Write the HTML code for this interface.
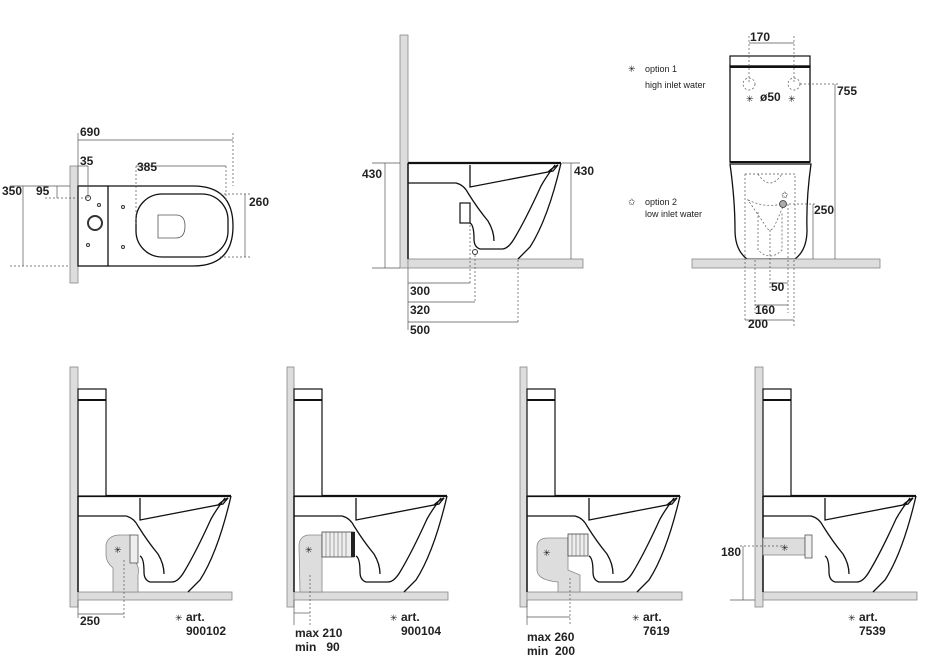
<!DOCTYPE html>
<html><head><meta charset="utf-8"><style>
html,body{margin:0;padding:0;background:#fff;}
svg{display:block;font-family:"Liberation Sans",Arial,sans-serif;}
.b{font-weight:bold;font-size:12px;fill:#222;}
.s{font-size:9px;fill:#222;}
</style></head><body>
<svg width="951" height="662" viewBox="0 0 951 662" xmlns="http://www.w3.org/2000/svg">
<defs>
<g id="bowl" fill="none" stroke="#111" stroke-width="1.3">
  <line x1="0" y1="-96" x2="153" y2="-96" stroke-width="2.2"/>
  <path d="M153,-96 Q140,-40 122,-12 Q114,-4 110,0"/>
  <path d="M147,-94 Q138,-82 133,-73 Q118,-40 106,-20 Q100,-10 94,-10 L72,-10 Q66,-12 66,-20 Q66,-34 62,-36"/>
  <path d="M0,-76 L48,-76 Q56,-74 60,-66 Q70,-50 80,-38 Q86,-28 86,-18"/>
  <path d="M62,-94 L62,-72 L145,-88 L150,-94"/>
  <path d="M140,-87 Q144,-91 150,-94"/>
</g>
<g id="side">
  <use href="#bowl"/>
  <rect x="0" y="-203" width="28" height="107" fill="#fff" stroke="#111" stroke-width="1.2"/>
  <line x1="0" y1="-192" x2="28" y2="-192" stroke="#111" stroke-width="2"/>
  <line x1="0" y1="-96" x2="0" y2="0" stroke="#111" stroke-width="1.5"/>
</g>
</defs>

<!-- ===== Plan view ===== -->
<rect x="70" y="166" width="8" height="117" fill="#ddd" stroke="#888" stroke-width="0.8"/>
<rect x="78" y="186" width="30" height="80" fill="none" stroke="#111" stroke-width="1.3"/>
<path d="M108,186 L193,186 Q233,186 233,226 Q233,266 193,266 L108,266" fill="none" stroke="#111" stroke-width="1.3"/>
<rect x="136" y="194" width="92" height="63" rx="26" fill="none" stroke="#111" stroke-width="1.3"/>
<path d="M158,215 L176,215 Q185,215 185,226 Q185,238 176,238 L158,238 Z" fill="none" stroke="#555" stroke-width="0.8"/>
<circle cx="88" cy="198" r="2.5" fill="none" stroke="#333"/>
<circle cx="95" cy="223" r="7" fill="none" stroke="#333" stroke-width="2"/>
<circle cx="99" cy="205" r="1.5" fill="none" stroke="#333"/>
<circle cx="88" cy="245" r="1.5" fill="none" stroke="#333"/>
<circle cx="123" cy="207" r="1.5" fill="none" stroke="#333"/>
<circle cx="123" cy="247" r="1.5" fill="none" stroke="#333"/>
<g stroke="#555" stroke-width="0.7" fill="none">
  <line x1="78" y1="140" x2="233" y2="140"/><line x1="78" y1="133" x2="78" y2="186"/><line x1="233" y1="133" x2="233" y2="186" stroke-dasharray="2,2"/>
  <line x1="88" y1="166" x2="88" y2="198"/><line x1="78" y1="166" x2="88" y2="166"/>
  <line x1="136" y1="166" x2="226" y2="166"/><line x1="136" y1="166" x2="136" y2="226" stroke-dasharray="2,2"/><line x1="226" y1="166" x2="226" y2="200" stroke-dasharray="2,2"/>
  <line x1="23" y1="186" x2="23" y2="266"/><line x1="10" y1="266" x2="70" y2="266" stroke-dasharray="2,2"/><line x1="10" y1="186" x2="70" y2="186"/>
  <line x1="57" y1="186" x2="57" y2="198"/><line x1="45" y1="198" x2="88" y2="198" stroke-dasharray="2,2"/>
  <line x1="245" y1="194" x2="245" y2="257"/><line x1="220" y1="194" x2="250" y2="194" stroke-dasharray="2,2"/><line x1="220" y1="257" x2="250" y2="257" stroke-dasharray="2,2"/>
</g>
<text class="b" x="80" y="136">690</text>
<text class="b" x="80" y="165">35</text>
<text class="b" x="137" y="171">385</text>
<text class="b" x="2" y="195">350</text>
<text class="b" x="36" y="195">95</text>
<text class="b" x="249" y="206">260</text>

<!-- ===== Side view top ===== -->
<rect x="400" y="35" width="8" height="233" fill="#ddd" stroke="#888" stroke-width="0.8"/>
<rect x="408" y="259" width="175" height="9" fill="#ddd" stroke="#888" stroke-width="0.8"/>
<g transform="translate(408,259)"><use href="#bowl"/>
<rect x="52" y="-56" width="10" height="20" fill="none" stroke="#111" stroke-width="1.2"/>
<line x1="0" y1="-96" x2="0" y2="0" stroke="#111" stroke-width="1.5"/></g>
<circle cx="475" cy="252" r="2.5" fill="none" stroke="#333"/>
<g stroke="#555" stroke-width="0.7" fill="none">
  <line x1="385" y1="163" x2="385" y2="268"/><line x1="372" y1="163" x2="400" y2="163"/><line x1="372" y1="268" x2="400" y2="268"/>
  <line x1="571" y1="163" x2="571" y2="259"/><line x1="562" y1="163" x2="580" y2="163"/>
  <line x1="408" y1="283" x2="470" y2="283"/><line x1="470" y1="225" x2="470" y2="283" stroke-dasharray="2,2"/>
  <line x1="408" y1="302" x2="475" y2="302"/><line x1="475" y1="255" x2="475" y2="302" stroke-dasharray="2,2"/>
  <line x1="408" y1="322" x2="518" y2="322"/><line x1="518" y1="260" x2="518" y2="322" stroke-dasharray="2,2"/>
  <line x1="408" y1="268" x2="408" y2="330"/>
</g>
<text class="b" x="362" y="178">430</text>
<text class="b" x="574" y="175">430</text>
<text class="b" x="410" y="295">300</text>
<text class="b" x="410" y="314">320</text>
<text class="b" x="410" y="334">500</text>

<!-- ===== Front view ===== -->
<text class="s" x="628" y="72">✳</text><text class="s" x="645" y="72">option 1</text>
<text class="s" x="645" y="88">high inlet water</text>
<text class="s" x="628" y="205">✩</text><text class="s" x="645" y="205">option 2</text>
<text class="s" x="645" y="217">low inlet water</text>
<rect x="730" y="56" width="80" height="10" fill="none" stroke="#111" stroke-width="1.2"/>
<rect x="730" y="66" width="80" height="96" fill="none" stroke="#111" stroke-width="1.3"/>
<line x1="730" y1="67" x2="810" y2="67" stroke="#111" stroke-width="2"/>
<line x1="730" y1="162" x2="810" y2="162" stroke="#111" stroke-width="2"/>
<path d="M730,164 L811,164 Q806,200 807,230 Q807,250 795,259 L747,259 Q735,250 735,230 Q735,200 730,164 Z" fill="none" stroke="#111" stroke-width="1.3"/>
<rect x="692" y="259" width="188" height="9" fill="#ddd" stroke="#888" stroke-width="0.8"/>
<g stroke="#555" stroke-width="0.7" fill="none" stroke-dasharray="2,2">
  <circle cx="749" cy="84" r="6"/><circle cx="794" cy="84" r="6"/>
  <path d="M745,174 L795,174 L795,255 M745,174 L745,320 M758,174 Q770,192 782,174"/>
  <path d="M748,200 Q770,210 785,202 L775,225 Q770,235 765,225 Z"/>
  <path d="M758,212 L758,250 Q770,262 782,250 L782,212"/>
  <line x1="749" y1="36" x2="749" y2="84"/><line x1="794" y1="36" x2="794" y2="84"/>
  <line x1="800" y1="84" x2="838" y2="84"/><line x1="785" y1="204" x2="815" y2="204"/>
  <line x1="770" y1="230" x2="770" y2="290"/><line x1="755" y1="260" x2="755" y2="313"/><line x1="788" y1="204" x2="788" y2="313"/>
  <line x1="794" y1="260" x2="794" y2="327"/>
</g>
<g stroke="#555" stroke-width="0.7" fill="none">
  <line x1="749" y1="43" x2="794" y2="43"/>
  <line x1="835" y1="84" x2="835" y2="259"/>
  <line x1="813" y1="204" x2="813" y2="259"/>
  <line x1="770" y1="283" x2="788" y2="283"/>
  <line x1="755" y1="305" x2="788" y2="305"/>
  <line x1="745" y1="320" x2="794" y2="320"/>
</g>
<circle cx="783" cy="204" r="3.5" fill="#aaa" stroke="#333" stroke-width="0.8"/>
<text class="s" x="781" y="198" font-size="8">✩</text>
<text class="b" x="750" y="41">170</text>
<text class="b" x="837" y="95">755</text>
<text class="s" x="746" y="102">✳</text><text class="b" x="760" y="101">ø50</text><text class="s" x="788" y="102">✳</text>
<text class="b" x="814" y="214">250</text>
<text class="b" x="771" y="291">50</text>
<text class="b" x="755" y="314">160</text>
<text class="b" x="748" y="328">200</text>

<!-- ===== Bottom views ===== -->
<g fill="#ddd" stroke="#888" stroke-width="0.8">
  <rect x="70" y="367" width="8" height="240"/><rect x="78" y="592" width="154" height="8"/>
  <rect x="287" y="367" width="7" height="240"/><rect x="294" y="592" width="154" height="8"/>
  <rect x="520" y="367" width="7" height="240"/><rect x="527" y="592" width="155" height="8"/>
  <rect x="755" y="367" width="8" height="240"/><rect x="763" y="592" width="154" height="8"/>
</g>
<use href="#side" transform="translate(78,592)"/>
<use href="#side" transform="translate(294,592)"/>
<use href="#side" transform="translate(527,592)"/>
<use href="#side" transform="translate(763,592)"/>

<!-- fittings -->
<path d="M106,545 Q108,535 120,535 L132,535 L133,560 Q140,565 138,575 L138,592 L113,592 L113,568 Q106,562 106,555 Z" fill="#ddd" stroke="#888" stroke-width="0.8"/>
<rect x="130" y="535" width="8" height="28" fill="#eee" stroke="#555" stroke-width="0.8"/>
<path d="M299,545 Q300,535 310,535 L322,535 L322,592 L300,592 Z" fill="#ddd" stroke="#888" stroke-width="0.8"/>
<rect x="322" y="532" width="32" height="25" fill="#eee" stroke="#444" stroke-width="0.8"/>
<g stroke="#555" stroke-width="0.5"><line x1="326" y1="532" x2="326" y2="557"/><line x1="330" y1="532" x2="330" y2="557"/><line x1="334" y1="532" x2="334" y2="557"/><line x1="338" y1="532" x2="338" y2="557"/><line x1="342" y1="532" x2="342" y2="557"/><line x1="346" y1="532" x2="346" y2="557"/></g>
<rect x="351" y="532" width="4" height="25" fill="#222"/>
<path d="M537,546 Q538,538 548,538 L568,538 L568,570 L580,575 L580,592 L558,592 L558,582 Q537,580 537,570 Z" fill="#ddd" stroke="#888" stroke-width="0.8"/>
<rect x="568" y="534" width="20" height="22" fill="#eee" stroke="#444" stroke-width="0.8"/>
<g stroke="#555" stroke-width="0.5"><line x1="572" y1="534" x2="572" y2="556"/><line x1="576" y1="534" x2="576" y2="556"/><line x1="580" y1="534" x2="580" y2="556"/><line x1="584" y1="534" x2="584" y2="556"/></g>
<rect x="763" y="538" width="42" height="17" fill="#ddd" stroke="#888" stroke-width="0.8"/>
<rect x="805" y="535" width="7" height="23" fill="#eee" stroke="#555" stroke-width="0.8"/>
<text class="s" x="114" y="553">✳</text><text class="s" x="305" y="553">✳</text><text class="s" x="543" y="556">✳</text><text class="s" x="781" y="551">✳</text>

<g stroke="#555" stroke-width="0.7" fill="none">
  <line x1="78" y1="614" x2="124" y2="614"/><line x1="124" y1="560" x2="124" y2="618" stroke-dasharray="2,2"/><line x1="78" y1="600" x2="78" y2="618"/>
  <line x1="294" y1="613" x2="310" y2="613"/><line x1="294" y1="600" x2="294" y2="625"/><line x1="310" y1="575" x2="310" y2="625" stroke-dasharray="2,2"/>
  <line x1="527" y1="617" x2="570" y2="617"/><line x1="527" y1="600" x2="527" y2="625"/><line x1="570" y1="578" x2="570" y2="625" stroke-dasharray="2,2"/>
  <line x1="743" y1="546" x2="743" y2="600"/><line x1="740" y1="546" x2="785" y2="546" stroke-dasharray="2,2"/><line x1="730" y1="600" x2="755" y2="600"/>
</g>
<text class="b" x="80" y="625">250</text>
<text class="s" x="175" y="621">✳</text><text class="b" x="186" y="621">art.</text><text class="b" x="186" y="635">900102</text>
<text class="b" x="295" y="637">max 210</text><text class="b" x="295" y="651">min&#160;&#160;&#160;90</text>
<text class="s" x="390" y="621">✳</text><text class="b" x="401" y="621">art.</text><text class="b" x="401" y="635">900104</text>
<text class="b" x="527" y="641">max 260</text><text class="b" x="527" y="655">min&#160;&#160;200</text>
<text class="s" x="632" y="621">✳</text><text class="b" x="643" y="621">art.</text><text class="b" x="643" y="635">7619</text>
<text class="b" x="721" y="556">180</text>
<text class="s" x="848" y="621">✳</text><text class="b" x="859" y="621">art.</text><text class="b" x="859" y="635">7539</text>
</svg>
</body></html>
